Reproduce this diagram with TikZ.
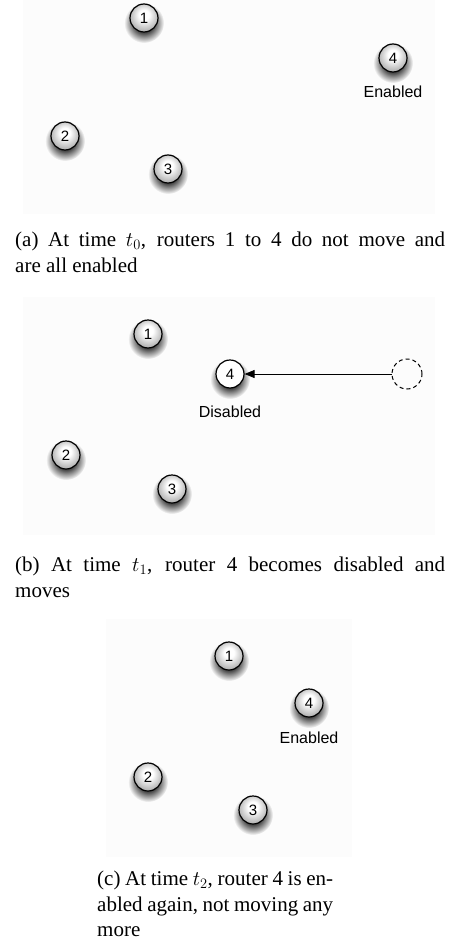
\documentclass[tikz,border=0pt]{standalone}
\usepackage{fontspec}
\setmainfont{Liberation Serif}
\newfontfamily\nodefont{Liberation Sans}
\usetikzlibrary{arrows.meta,fadings}
\definecolor{panelbg}{RGB}{252,252,252}
\pgfdeclareradialshading{routershade}{\pgfpoint{0bp}{7bp}}{color(0bp)=(white); color(9bp)=(white); color(31bp)=(black!38); color(50bp)=(black!38)}
\pgfdeclareradialshading{softshadowshade}{\pgfpointorigin}{color(0bp)=(pgftransparent!0); color(12bp)=(pgftransparent!10); color(25bp)=(pgftransparent!100); color(50bp)=(pgftransparent!100)}
\pgfdeclarefading{softshadow}{\pgfuseshading{softshadowshade}}
\pgfdeclarelayer{panels}
\pgfdeclarelayer{shadows}
\pgfsetlayers{panels,shadows,main}
\tikzset{
  panel/.style={fill=panelbg, draw=none},
  router/.style={circle, draw=black, line width=1.2pt, minimum size=28pt, inner sep=0pt,
    font=\nodefont\fontsize{15}{15}\selectfont, shading=routershade},
  routerwhite/.style={circle, draw=black, line width=1.2pt, minimum size=28pt, inner sep=0pt,
    font=\nodefont\fontsize{15}{15}\selectfont, fill=white},
  ghost/.style={circle, draw=black, line width=1pt, dash pattern=on 4pt off 3pt, minimum size=30pt, inner sep=0pt},
  statelabel/.style={anchor=base, inner sep=0pt, font=\nodefont\fontsize{16}{16}\selectfont},
  capline/.style={anchor=base west, inner sep=0pt, font=\fontsize{21}{26.5}\selectfont},
  shadowfill/.style={fill=black, opacity=0.8, path fading=softshadow},
  movearrow/.style={line width=0.9pt, -{Triangle[length=10pt,width=8pt]}}
}
\begin{document}
\begin{tikzpicture}[x=1pt,y=-1pt]
\useasboundingbox (0,0) rectangle (448,939);
\begin{pgfonlayer}{panels}
\fill[white] (0,0) rectangle (448,939);
\path[panel] (23,0) rectangle (435,214);
\path[panel] (23,297) rectangle (435,535);
\path[panel] (106,619) rectangle (352,857);
\end{pgfonlayer}
% panel (a)
\node[router] (a1) at (144,18) {1};
\node[router] (a4) at (393,58) {4};
\node[statelabel] (a4l) at (393,98) {Enabled};
\node[router] (a2) at (65,136) {2};
\node[router] (a3) at (168,169) {3};
\node[capline] (capa1) at (15,246) {\makebox[430pt][s]{(a) At time $t_0$, routers 1 to 4 do not move and}};
\node[capline] (capa2) at (15,272.5) {are all enabled};
% panel (b)
\node[router] (b1) at (148,334) {1};
\node[routerwhite] (b4) at (230,374) {4};
\node[ghost] (b4old) at (407,374) {};
\node[statelabel] (b4l) at (230,417) {Disabled};
\node[router] (b2) at (66,455) {2};
\node[router] (b3) at (172,489) {3};
\draw[movearrow] (b4old) -- (b4);
\node[capline] (capb1) at (15,571) {\makebox[430pt][s]{(b) At time $t_1$, router 4 becomes disabled and}};
\node[capline] (capb2) at (15,597.5) {moves};
% panel (c)
\node[router] (c1) at (229,656) {1};
\node[router] (c4) at (309,703) {4};
\node[statelabel] (c4l) at (309,743) {Enabled};
\node[router] (c2) at (148,777) {2};
\node[router] (c3) at (253,810) {3};
\node[capline] (capc1) at (97,885) {\makebox[236pt][s]{(c) At time $t_2$, router 4 is en-}};
\node[capline] (capc2) at (97,911) {\makebox[236pt][s]{abled again, not moving any}};
\node[capline] (capc3) at (97,936) {more};
% shadows
\begin{pgfonlayer}{shadows}
\foreach \n in {a1,a2,a3,a4,b1,b2,b3,b4,c1,c2,c3,c4}
  \fill[shadowfill] ([yshift=-5pt]\n.center) circle (20pt);
\end{pgfonlayer}
\end{tikzpicture}
\end{document}
